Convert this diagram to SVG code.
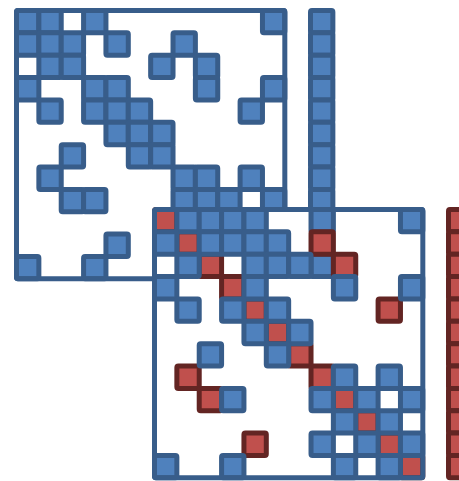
<svg xmlns="http://www.w3.org/2000/svg" width="459" height="481" viewBox="0 0 459 481">
<style>
.b{fill:#4F81BD;stroke:#385D8A;stroke-width:5;stroke-linejoin:round}
.r{fill:#C0504D;stroke:#632523;stroke-width:5;stroke-linejoin:round}
.f{fill:none;stroke:#385D8A;stroke-width:5;stroke-linejoin:round}
.bg{fill:#FFFFFF}
rect{rx:1.5}
</style>
<rect x="0" y="0" width="459" height="481" fill="#FFFFFF"/>
<defs>
<rect id="cb" class="b" width="22.36" height="22.36"/>
<rect id="cr" class="r" width="22.36" height="22.36"/>
</defs>
<g id="matrix1" transform="translate(16.5,10.5)">
<use href="#cb" x="0" y="0"/><use href="#cb" x="22.36" y="0"/><use href="#cb" x="67.08" y="0"/><use href="#cb" x="245.96" y="0"/>
<use href="#cb" x="0" y="22.36"/><use href="#cb" x="22.36" y="22.36"/><use href="#cb" x="44.72" y="22.36"/><use href="#cb" x="89.44" y="22.36"/><use href="#cb" x="156.52" y="22.36"/>
<use href="#cb" x="22.36" y="44.72"/><use href="#cb" x="44.72" y="44.72"/><use href="#cb" x="134.16" y="44.72"/><use href="#cb" x="178.88" y="44.72"/>
<use href="#cb" x="0" y="67.08"/><use href="#cb" x="67.08" y="67.08"/><use href="#cb" x="89.44" y="67.08"/><use href="#cb" x="178.88" y="67.08"/><use href="#cb" x="245.96" y="67.08"/>
<use href="#cb" x="22.36" y="89.44"/><use href="#cb" x="67.08" y="89.44"/><use href="#cb" x="89.44" y="89.44"/><use href="#cb" x="111.8" y="89.44"/><use href="#cb" x="223.6" y="89.44"/>
<use href="#cb" x="89.44" y="111.8"/><use href="#cb" x="111.8" y="111.8"/><use href="#cb" x="134.16" y="111.8"/>
<use href="#cb" x="44.72" y="134.16"/><use href="#cb" x="111.8" y="134.16"/><use href="#cb" x="134.16" y="134.16"/>
<use href="#cb" x="22.36" y="156.52"/><use href="#cb" x="156.52" y="156.52"/><use href="#cb" x="178.88" y="156.52"/><use href="#cb" x="223.6" y="156.52"/>
<use href="#cb" x="44.72" y="178.88"/><use href="#cb" x="67.08" y="178.88"/><use href="#cb" x="156.52" y="178.88"/><use href="#cb" x="178.88" y="178.88"/><use href="#cb" x="201.24" y="178.88"/><use href="#cb" x="245.96" y="178.88"/>
<use href="#cb" x="89.44" y="223.6"/>
<use href="#cb" x="0" y="245.96"/><use href="#cb" x="67.08" y="245.96"/>
<rect class="f" x="0" y="0" width="268.32" height="268.32"/>
</g>
<g id="vector1" transform="translate(310.5,10.5)">
<use href="#cb" x="0" y="0"/><use href="#cb" x="0" y="22.36"/><use href="#cb" x="0" y="44.72"/><use href="#cb" x="0" y="67.08"/><use href="#cb" x="0" y="89.44"/><use href="#cb" x="0" y="111.8"/><use href="#cb" x="0" y="134.16"/><use href="#cb" x="0" y="156.52"/><use href="#cb" x="0" y="178.88"/><use href="#cb" x="0" y="201.24"/>
</g>
<g id="matrix2" transform="translate(154.5,209.5)">
<rect class="bg" x="-2.5" y="-2.5" width="273.32" height="273.32"/>
<use href="#cb" x="156.52" y="0"/><use href="#cb" x="156.52" y="44.72"/>
<use href="#cr" x="0" y="0"/>
<use href="#cr" x="22.36" y="22.36"/>
<use href="#cr" x="156.52" y="22.36"/>
<use href="#cr" x="44.72" y="44.72"/>
<use href="#cr" x="178.88" y="44.72"/>
<use href="#cr" x="67.08" y="67.08"/>
<use href="#cr" x="89.44" y="89.44"/>
<use href="#cr" x="223.6" y="89.44"/>
<use href="#cr" x="111.8" y="111.8"/>
<use href="#cr" x="134.16" y="134.16"/>
<use href="#cr" x="22.36" y="156.52"/>
<use href="#cr" x="156.52" y="156.52"/>
<use href="#cr" x="44.72" y="178.88"/>
<use href="#cr" x="178.88" y="178.88"/>
<use href="#cr" x="201.24" y="201.24"/>
<use href="#cr" x="89.44" y="223.6"/>
<use href="#cr" x="223.6" y="223.6"/>
<use href="#cr" x="245.96" y="245.96"/>
<use href="#cb" x="22.36" y="0"/><use href="#cb" x="44.72" y="0"/><use href="#cb" x="67.08" y="0"/><use href="#cb" x="89.44" y="0"/><use href="#cb" x="245.96" y="0"/>
<use href="#cb" x="0" y="22.36"/><use href="#cb" x="44.72" y="22.36"/><use href="#cb" x="67.08" y="22.36"/><use href="#cb" x="89.44" y="22.36"/><use href="#cb" x="111.8" y="22.36"/>
<use href="#cb" x="22.36" y="44.72"/><use href="#cb" x="89.44" y="44.72"/><use href="#cb" x="111.8" y="44.72"/><use href="#cb" x="134.16" y="44.72"/>
<use href="#cb" x="0" y="67.08"/><use href="#cb" x="89.44" y="67.08"/><use href="#cb" x="178.88" y="67.08"/><use href="#cb" x="245.96" y="67.08"/>
<use href="#cb" x="22.36" y="89.44"/><use href="#cb" x="67.08" y="89.44"/><use href="#cb" x="111.8" y="89.44"/>
<use href="#cb" x="89.44" y="111.8"/><use href="#cb" x="134.16" y="111.8"/>
<use href="#cb" x="44.72" y="134.16"/><use href="#cb" x="111.8" y="134.16"/>
<use href="#cb" x="178.88" y="156.52"/><use href="#cb" x="223.6" y="156.52"/>
<use href="#cb" x="67.08" y="178.88"/><use href="#cb" x="156.52" y="178.88"/><use href="#cb" x="201.24" y="178.88"/><use href="#cb" x="245.96" y="178.88"/>
<use href="#cb" x="178.88" y="201.24"/><use href="#cb" x="223.6" y="201.24"/>
<use href="#cb" x="156.52" y="223.6"/><use href="#cb" x="201.24" y="223.6"/><use href="#cb" x="245.96" y="223.6"/>
<use href="#cb" x="0" y="245.96"/><use href="#cb" x="67.08" y="245.96"/><use href="#cb" x="178.88" y="245.96"/><use href="#cb" x="223.6" y="245.96"/>
<rect class="f" x="0" y="0" width="268.32" height="268.32"/>
</g>
<g id="vector2" transform="translate(448.5,209.5)">
<use href="#cr" x="0" y="0"/><use href="#cr" x="0" y="22.36"/><use href="#cr" x="0" y="44.72"/><use href="#cr" x="0" y="67.08"/><use href="#cr" x="0" y="89.44"/><use href="#cr" x="0" y="111.8"/><use href="#cr" x="0" y="134.16"/><use href="#cr" x="0" y="156.52"/><use href="#cr" x="0" y="178.88"/><use href="#cr" x="0" y="201.24"/><use href="#cr" x="0" y="223.6"/><use href="#cr" x="0" y="245.96"/>
</g>
</svg>
